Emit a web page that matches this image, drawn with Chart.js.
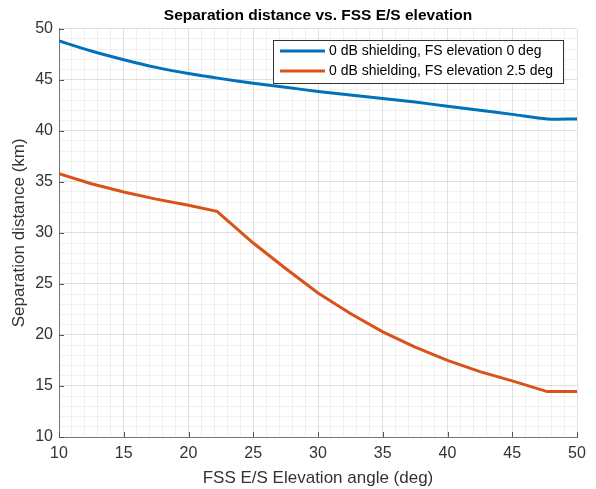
<!DOCTYPE html>
<html>
<head>
<meta charset="utf-8">
<script src="https://cdn.jsdelivr.net/npm/chart.js@4.4.1/dist/chart.umd.min.js"></script>
<style>
  html, body { margin: 0; padding: 0; background: #fff; }
  #wrap { width: 596px; height: 489px; }
</style>
</head>
<body>
<div id="wrap"><canvas id="chart" width="596" height="489"></canvas></div>
<script>
// values
const elevA = [10, 12.5, 15, 17.5, 20, 22.5, 25, 27.5, 30, 32.5, 35, 37.5, 40, 42.5, 45, 47.7, 50];
const distA = [48.8, 47.8, 46.95, 46.2, 45.6, 45.1, 44.65, 44.25, 43.85, 43.5, 43.15, 42.8, 42.4, 42.0, 41.6, 41.15, 41.15];

const elevB = [10, 12.5, 15, 17.5, 20, 22.2, 25, 27.5, 30, 32.5, 35, 37.5, 40, 42.5, 45, 47.7, 50];
const distB = [35.8, 34.8, 34.0, 33.3, 32.7, 32.1, 29.0, 26.5, 24.1, 22.1, 20.3, 18.8, 17.5, 16.4, 15.5, 14.45, 14.45];

const seriesLabels = ['0 dB shielding, FS elevation 0 deg', '0 dB shielding, FS elevation 2.5 deg'];
const seriesColors = ['#0072BD', '#D95319'];
const majorTicks = [10, 15, 20, 25, 30, 35, 40, 45, 50];

const FONT = '"Liberation Sans", Arial, sans-serif';

const toPts = (xs, ys) => xs.map((x, i) => ({ x: x, y: ys[i] }));

const gridColor = (ctx) => {
    const v = ctx.tick ? ctx.tick.value : 0;
    return majorTicks.includes(v) ? 'rgba(0,0,0,0.12)' : 'rgba(0,0,0,0.055)';
};

// boxed legend in the upper right, MATLAB style
const boxLegend = {
    id: 'boxLegend',
    afterDraw(chart) {
        const c = chart.ctx;
        const left = 273, top = 40, w = 290, h = 43;
        c.save();
        c.fillStyle = '#fff';
        c.fillRect(left, top, w, h);
        c.strokeStyle = '#333';
        c.lineWidth = 1;
        c.strokeRect(left + 0.5, top + 0.5, w, h);
        c.font = '14px ' + FONT;
        c.textBaseline = 'middle';
        chart.data.datasets.forEach((ds, i) => {
            const y = top + 11 + i * 20;
            c.strokeStyle = ds.borderColor;
            c.lineWidth = 3;
            c.beginPath();
            c.moveTo(left + 7, y);
            c.lineTo(left + 52, y);
            c.stroke();
            c.fillStyle = '#000';
            c.fillText(ds.label, left + 56, y + 0.5);
        });
        c.restore();
    }
};

// small inward tick marks on the two drawn axes
const innerTicks = {
    id: 'innerTicks',
    afterDatasetsDraw(chart) {
        const c = chart.ctx;
        const xs = chart.scales.x, ys = chart.scales.y;
        const a = chart.chartArea;
        c.save();
        c.strokeStyle = '#555';
        c.lineWidth = 1;
        c.beginPath();
        majorTicks.forEach(v => {
            const px = Math.round(xs.getPixelForValue(v)) + 0.5;
            c.moveTo(px, a.bottom);
            c.lineTo(px, a.bottom - 5);
            const py = Math.round(ys.getPixelForValue(v)) + 0.5;
            c.moveTo(a.left, py);
            c.lineTo(a.left + 5, py);
        });
        c.stroke();
        c.restore();
    }
};

const tickFont = { family: FONT, size: 16 };
const axisTitleFont = { family: FONT, size: 17 };

new Chart(document.getElementById('chart'), {
    type: 'line',
    data: {
        datasets: [
            { label: seriesLabels[0], data: toPts(elevA, distA), borderColor: seriesColors[0], borderWidth: 3, pointRadius: 0, tension: 0.3, fill: false },
            { label: seriesLabels[1], data: toPts(elevB, distB), borderColor: seriesColors[1], borderWidth: 3, pointRadius: 0, tension: 0, fill: false }
        ]
    },
    options: {
        responsive: false,
        animation: false,
        layout: { padding: { left: 0, right: 19, top: 0, bottom: 0 } },
        plugins: {
            legend: { display: false },
            tooltip: { enabled: false },
            title: {
                display: true,
                fullSize: false,
                text: 'Separation distance vs. FSS E/S elevation',
                color: '#000',
                font: { family: FONT, size: 15.5, weight: 'bold' },
                padding: { top: 6, bottom: 4 }
            }
        },
        scales: {
            x: {
                type: 'linear',
                min: 10, max: 50,
                afterFit(s) { s.height = 52; },
                border: { display: true, color: '#777', width: 1 },
                grid: { color: gridColor, drawTicks: false },
                ticks: {
                    stepSize: 1, autoSkip: false, maxRotation: 0,
                    padding: 7, color: '#333', font: tickFont,
                    callback: (v) => majorTicks.includes(v) ? v : ''
                },
                title: {
                    display: true, text: 'FSS E/S Elevation angle (deg)',
                    color: '#333', font: axisTitleFont,
                    padding: { top: 0, bottom: 0 }
                }
            },
            y: {
                min: 10, max: 50,
                afterFit(s) { s.width = 59; },
                border: { display: true, color: '#777', width: 1 },
                grid: { color: gridColor, drawTicks: false },
                ticks: {
                    stepSize: 1, autoSkip: false,
                    padding: 6, color: '#333', font: tickFont,
                    callback: (v) => majorTicks.includes(v) ? v : ''
                },
                title: {
                    display: true, text: 'Separation distance (km)',
                    color: '#333', font: axisTitleFont,
                    padding: { top: 9, bottom: 0 }
                }
            }
        }
    },
    plugins: [innerTicks, boxLegend]
});
</script>
</body>
</html>
